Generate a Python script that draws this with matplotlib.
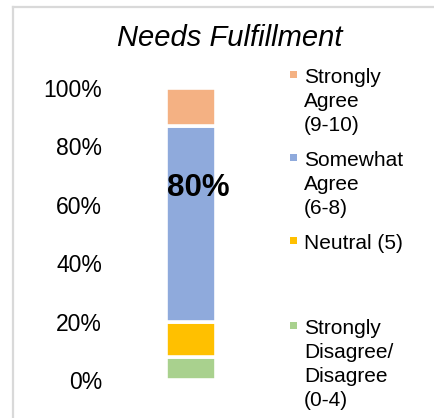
"""Single stacked bar: Needs Fulfillment survey response shares."""

import matplotlib

matplotlib.use("Agg")
import matplotlib.pyplot as plt
from matplotlib.lines import Line2D
from matplotlib.patches import Rectangle

plt.rcParams["font.family"] = ["Liberation Sans", "DejaVu Sans"]

# categories bottom -> top
categories = [
    "Strongly\nDisagree/\nDisagree\n(0-4)",
    "Neutral (5)",
    "Somewhat\nAgree\n(6-8)",
    "Strongly\nAgree\n(9-10)",
]
shares = [8, 12, 67, 13]
colors = ["#A9D18E", "#FFC000", "#8FAADC", "#F4B183"]
agree_label = "80%"
yticks = [0, 20, 40, 60, 80, 100]

W, H = 435, 418
fig = plt.figure(figsize=(W / 100, H / 100), dpi=100)
fig.patch.set_facecolor("white")

# axes placed in pixel terms
ax_l, ax_r = 113, 269
ax_bot, ax_top = 380, 88
ax = fig.add_axes(
    [ax_l / W, 1 - ax_bot / H, (ax_r - ax_l) / W, (ax_bot - ax_top) / H]
)

bottom = 0
for val, col in zip(shares, colors):
    ax.bar(0, val, width=0.32, bottom=bottom, color=col,
           edgecolor="white", linewidth=2.6)
    bottom += val

ax.text(0.05, 65.6, agree_label, ha="center", va="center",
        fontsize=22.5, fontweight="bold", color="black")

ax.set_xlim(-0.5, 0.5)
ax.set_ylim(0, 100)
ax.set_yticks(yticks)
ax.set_yticklabels([f"{t}%" for t in yticks], fontsize=16.5)
ax.set_xticks([])
ax.tick_params(axis="y", length=0, pad=8)
for s in ax.spines.values():
    s.set_visible(False)

# title
fig.text(230 / W, 1 - 38 / H, "Needs Fulfillment", ha="center", va="center",
         fontsize=21, style="italic")

# legend drawn by hand so entries keep Excel's even spacing (top -> bottom)
baselines = [83, 166, 249, 334]
line_step = 24
for lab, col, yb in zip(categories[::-1], colors[::-1], baselines):
    fig.patches.append(Rectangle((290 / W, 1 - (yb - 5) / H), 7 / W, 7 / H,
                                 transform=fig.transFigure, color=col,
                                 linewidth=0))
    for k, line in enumerate(lab.split("\n")):
        fig.text(304 / W, 1 - (yb + k * line_step) / H, line, ha="left",
                 va="baseline", fontsize=15)

# light grey frame (left and top edges visible)
frame_c = "#D9D9D9"
fig.add_artist(Line2D([13.5 / W, 13.5 / W], [0, 1 - 7 / H], color=frame_c,
                      linewidth=1.6, transform=fig.transFigure))
fig.add_artist(Line2D([13.5 / W, 1], [1 - 7 / H, 1 - 7 / H], color=frame_c,
                      linewidth=1.6, transform=fig.transFigure))

fig.savefig("out.png", dpi=100)
